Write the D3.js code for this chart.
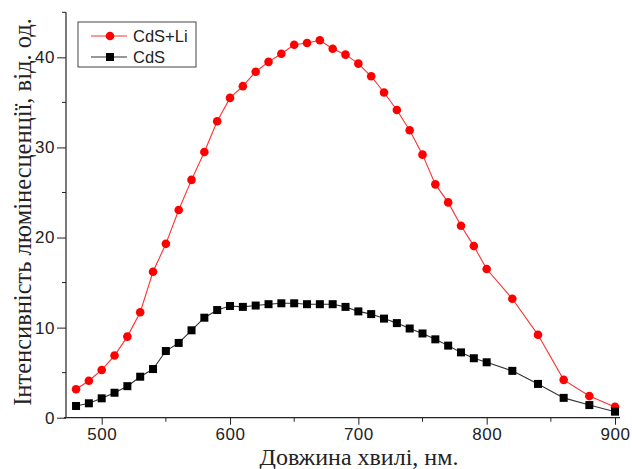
<!DOCTYPE html>
<html lang="uk">
<head>
<meta charset="utf-8">
<script src="https://d3js.org/d3.v7.min.js"></script>
<style>
  body { margin: 0; background: #fff; }
  .tick text { font-family: Arial, "Liberation Sans", sans-serif; font-size: 17px; fill: #222; letter-spacing: 0.5px; }
  .axis path, .axis line { stroke: #222; }
</style>
</head>
<body>
<div id="chart"></div>
<script>
// wavelength, nm
var hvyli = [480,490,500,510,520,530,540,550,560,570,580,590,600,610,620,630,640,650,660,670,680,690,
             700,710,720,730,740,750,760,770,780,790,800,820,840,860,880,900];
// CdS+Li
var cdsLi = [3.15,4.1,5.3,6.9,9.0,11.7,16.2,19.3,23.05,26.4,29.5,32.9,35.5,36.8,38.4,39.5,40.4,41.4,41.6,41.9,40.95,40.3,
             39.3,37.9,36.1,34.15,31.9,29.2,25.9,23.9,21.3,19.05,16.5,13.2,9.2,4.2,2.4,1.2];
// CdS
var cds = [1.3,1.6,2.15,2.77,3.5,4.55,5.4,7.4,8.3,9.7,11.1,11.95,12.4,12.3,12.45,12.6,12.7,12.7,12.6,12.6,12.6,12.3,
           11.8,11.5,11.0,10.5,9.9,9.35,8.7,8.0,7.25,6.6,6.15,5.2,3.75,2.2,1.4,0.67];
var xTicks = [500,600,700,800,900];
var yTicks = [0,10,20,30,40];

var W = 632, H = 469;
var pLeft = 66, pTop = 12.3, pBottom = 417.7;

var svg = d3.select('#chart').append('svg')
    .attr('width', W).attr('height', H);

var x = d3.scaleLinear().domain([500, 900]).range([101.7, 615]);
var y = d3.scaleLinear().domain([0, 45]).range([pBottom, pTop]);

// minor ticks
var xMinor = d3.range(550, 901, 100);
var yMinor = d3.range(5, 46, 10);

svg.append('g').selectAll('line').data(xMinor).enter().append('line')
  .attr('x1', d => x(d)).attr('x2', d => x(d))
  .attr('y1', pBottom).attr('y2', pBottom + 4)
  .attr('stroke', '#222');
svg.append('g').selectAll('line').data(yMinor).enter().append('line')
  .attr('x1', pLeft).attr('x2', pLeft - 4)
  .attr('y1', d => y(d)).attr('y2', d => y(d))
  .attr('stroke', '#222');

// axes
var xAx = svg.append('g').attr('class', 'axis')
  .attr('transform', 'translate(0,' + pBottom + ')')
  .call(d3.axisBottom(x).tickValues(xTicks).tickSize(7).tickSizeOuter(0).tickPadding(3));
xAx.select('.domain').remove();
svg.append('line').attr('x1', pLeft - 2).attr('x2', 620).attr('y1', pBottom).attr('y2', pBottom)
  .attr('stroke', '#222').attr('stroke-width', 1.2);

var yAx = svg.append('g').attr('class', 'axis')
  .attr('transform', 'translate(' + pLeft + ',0)')
  .call(d3.axisLeft(y).tickValues(yTicks).tickSize(9).tickSizeOuter(0).tickPadding(2));
yAx.select('.domain').remove();
svg.append('line').attr('x1', pLeft).attr('x2', pLeft).attr('y1', pTop).attr('y2', pBottom)
  .attr('stroke', '#222').attr('stroke-width', 1.2);

// series
var series = [
  {name: 'CdS+Li', vals: cdsLi, color: '#ff0000', lineColor: '#ff3030', shape: 'circle'},
  {name: 'CdS', vals: cds, color: '#000000', lineColor: '#333', shape: 'square'}
];
var line = d3.line().x(d => x(d[0])).y(d => y(d[1]));

series.forEach(function(s) {
  var pts = hvyli.map((h, i) => [h, s.vals[i]]);
  svg.append('path').datum(pts)
    .attr('d', line)
    .attr('fill', 'none')
    .attr('stroke', s.lineColor)
    .attr('stroke-width', 1.1);
  if (s.shape === 'circle') {
    svg.append('g').selectAll('circle').data(pts).enter().append('circle')
      .attr('cx', d => x(d[0])).attr('cy', d => y(d[1]))
      .attr('r', 4.3).attr('fill', s.color);
  } else {
    svg.append('g').selectAll('rect').data(pts).enter().append('rect')
      .attr('x', d => x(d[0]) - 4).attr('y', d => y(d[1]) - 4)
      .attr('width', 8).attr('height', 8).attr('fill', s.color);
  }
});

// legend
var lg = svg.append('g');
lg.append('rect').attr('x', 78).attr('y', 22).attr('width', 118).attr('height', 45)
  .attr('fill', '#fff').attr('stroke', '#444').attr('stroke-width', 1);
series.forEach(function(s, i) {
  var ly = 36 + i * 21;
  lg.append('line').attr('x1', 91).attr('x2', 127).attr('y1', ly).attr('y2', ly)
    .attr('stroke', s.lineColor).attr('stroke-width', 1.1);
  if (s.shape === 'circle') {
    lg.append('circle').attr('cx', 110).attr('cy', ly).attr('r', 4.3).attr('fill', s.color);
  } else {
    lg.append('rect').attr('x', 106).attr('y', ly - 4).attr('width', 8).attr('height', 8).attr('fill', s.color);
  }
  lg.append('text').attr('x', 133).attr('y', ly + 6)
    .attr('font-family', 'Arial, "Liberation Sans", sans-serif').attr('font-size', 16.5)
    .attr('fill', '#222').text(s.name);
});

// axis titles
svg.append('text')
  .attr('x', 359).attr('y', 465)
  .attr('text-anchor', 'middle')
  .attr('font-family', '"Liberation Serif", "Times New Roman", serif')
  .attr('font-size', 24).attr('fill', '#222')
  .text('Довжина хвилі, нм.');
svg.append('text')
  .attr('transform', 'translate(31,212) rotate(-90)')
  .attr('text-anchor', 'middle')
  .attr('font-family', '"Liberation Serif", "Times New Roman", serif')
  .attr('font-size', 24.5).attr('fill', '#222')
  .text('Інтенсивність люмінесценції, від. од.');
</script>
</body>
</html>
